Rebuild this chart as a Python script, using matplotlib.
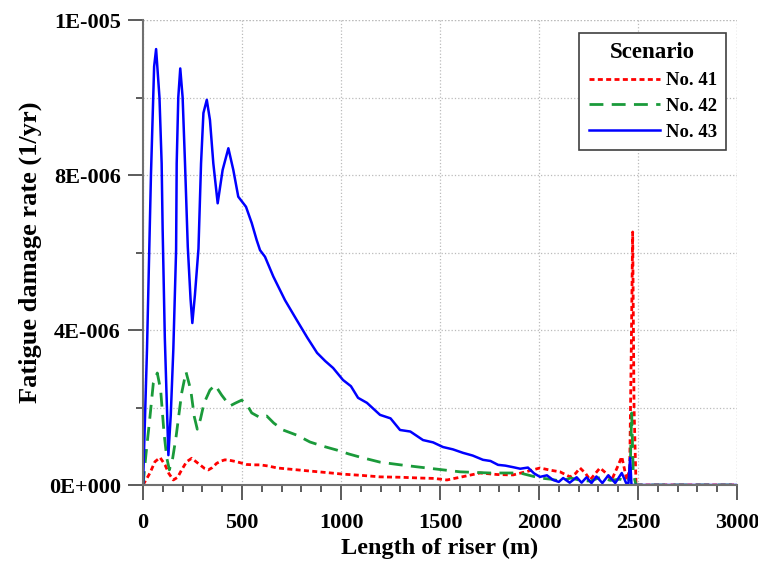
import matplotlib
matplotlib.use('Agg')
import matplotlib.pyplot as plt
from matplotlib.ticker import MultipleLocator, FuncFormatter

# Data (x in m, y in 1/yr)
x41 = [0, 35, 60, 86, 111, 130, 153, 175, 195, 220, 246, 268, 288, 310, 330, 350, 372, 395,
       414, 445, 473, 523, 560, 591, 633, 677, 760, 843, 930, 1010, 1100, 1197, 1300, 1399,
       1470, 1535, 1620, 1702, 1790, 1869, 1940, 2005, 2060, 2106, 2157, 2185, 2207, 2235,
       2258, 2285, 2308, 2340, 2367, 2395, 2418, 2432, 2443, 2458, 2466, 2473, 2480, 2490,
       3000]
y41 = [0, 0.31e-6, 0.6e-6, 0.71e-6, 0.52e-6, 0.3e-6, 0.13e-6, 0.2e-6, 0.39e-6, 0.6e-6,
       0.69e-6, 0.6e-6, 0.52e-6, 0.43e-6, 0.39e-6, 0.45e-6, 0.56e-6, 0.62e-6, 0.65e-6,
       0.63e-6, 0.60e-6, 0.53e-6, 0.52e-6, 0.52e-6, 0.49e-6, 0.44e-6, 0.40e-6, 0.36e-6,
       0.32e-6, 0.28e-6, 0.25e-6, 0.21e-6, 0.20e-6, 0.18e-6, 0.17e-6, 0.13e-6, 0.22e-6,
       0.31e-6, 0.27e-6, 0.26e-6, 0.35e-6, 0.44e-6, 0.38e-6, 0.34e-6, 0.21e-6, 0.3e-6,
       0.44e-6, 0.3e-6, 0.13e-6, 0.3e-6, 0.44e-6, 0.3e-6, 0.13e-6, 0.45e-6, 0.73e-6,
       0.4e-6, 0.13e-6, 0.4e-6, 3.5e-6, 6.53e-6, 2.0e-6, 0, 0]

x42 = [0, 15, 35, 52, 72, 89, 106, 120, 133, 150, 167, 195, 217, 241, 259, 274, 290, 308,
       338, 364, 397, 439, 465, 498, 523, 549, 591, 625, 660, 707, 780, 843, 910, 980, 1040,
       1096, 1197, 1300, 1399, 1500, 1601, 1753, 1904, 2005, 2060, 2110, 2160, 2210, 2260,
       2310, 2360, 2410, 2450, 2460, 2468, 2476, 2490, 3000]
y42 = [0, 0.8e-6, 1.76e-6, 2.63e-6, 2.89e-6, 2.45e-6, 1.34e-6, 0.7e-6, 0.39e-6, 0.7e-6,
       1.25e-6, 2.37e-6, 2.92e-6, 2.45e-6, 1.76e-6, 1.44e-6, 1.7e-6, 2.11e-6, 2.45e-6,
       2.58e-6, 2.32e-6, 2.04e-6, 2.11e-6, 2.19e-6, 2.09e-6, 1.86e-6, 1.74e-6, 1.78e-6,
       1.6e-6, 1.42e-6, 1.28e-6, 1.11e-6, 1.0e-6, 0.90e-6, 0.80e-6, 0.72e-6, 0.59e-6,
       0.52e-6, 0.46e-6, 0.40e-6, 0.34e-6, 0.31e-6, 0.31e-6, 0.18e-6, 0.15e-6, 0.1e-6,
       0.18e-6, 0.12e-6, 0.1e-6, 0.2e-6, 0.12e-6, 0.15e-6, 0.08e-6, 0.3e-6, 1.86e-6, 0.3e-6,
       0, 0]

x43 = [0, 20, 40, 56, 66, 83, 94, 99, 110, 128, 140, 153, 167, 170, 178, 188, 200, 212, 226,
       240, 249, 262, 280, 293, 305, 322, 338, 355, 377, 402, 431, 456, 481, 520, 549, 574,
       591, 616, 658, 717, 776, 830, 879, 920, 960, 1010, 1050, 1086, 1131, 1197, 1250, 1298,
       1350, 1414, 1465, 1515, 1565, 1616, 1665, 1717, 1755, 1793, 1830, 1869, 1905, 1944,
       1975, 2005, 2040, 2071, 2100, 2122, 2155, 2190, 2215, 2240, 2265, 2290, 2320, 2350,
       2385, 2418, 2440, 2452, 2460, 2467, 2480, 3000]
y43 = [0, 3.5e-6, 8.0e-6, 10.8e-6, 11.25e-6, 10.0e-6, 8.3e-6, 6.6e-6, 3.8e-6, 0.77e-6,
       1.8e-6, 3.5e-6, 6.06e-6, 8.3e-6, 10.0e-6, 10.75e-6, 10.0e-6, 8.3e-6, 6.15e-6,
       4.8e-6, 4.18e-6, 4.9e-6, 6.1e-6, 8.3e-6, 9.6e-6, 9.94e-6, 9.42e-6, 8.3e-6, 7.27e-6,
       8.13e-6, 8.69e-6, 8.13e-6, 7.44e-6, 7.18e-6, 6.76e-6, 6.32e-6, 6.06e-6, 5.89e-6,
       5.38e-6, 4.77e-6, 4.26e-6, 3.8e-6, 3.41e-6, 3.2e-6, 3.02e-6, 2.71e-6, 2.55e-6,
       2.25e-6, 2.12e-6, 1.81e-6, 1.72e-6, 1.42e-6, 1.38e-6, 1.16e-6, 1.10e-6, 0.98e-6,
       0.92e-6, 0.83e-6, 0.76e-6, 0.65e-6, 0.62e-6, 0.52e-6, 0.50e-6, 0.46e-6, 0.42e-6,
       0.45e-6, 0.30e-6, 0.21e-6, 0.25e-6, 0.13e-6, 0.08e-6, 0.18e-6, 0.06e-6, 0.2e-6,
       0.06e-6, 0.2e-6, 0.05e-6, 0.22e-6, 0.05e-6, 0.25e-6, 0.05e-6, 0.31e-6, 0.05e-6,
       0.05e-6, 0.7e-6, 0, 0, 0]

series = [
    (x41, y41, 'No. 41', '#ff0000', (0, (1.8, 1.2)), 2.0),
    (x42, y42, 'No. 42', '#1a9a3a', (0, (5, 3)), 2.0),
    (x43, y43, 'No. 43', '#0000ff', '-', 1.8),
]
yTickLabels = [0, 4e-6, 8e-6, 1.2e-5]
yMinorTicks = [2e-6, 6e-6, 1e-5]

plt.rcParams['font.family'] = 'Liberation Serif'
plt.rcParams['font.weight'] = 'bold'

fig = plt.figure(figsize=(7.58, 5.62), dpi=100)
ax = fig.add_axes([0.1887, 0.137, 0.7836, 0.8274])

for xs, ys, label, color, ls, lw in series:
    ax.plot(xs, ys, color=color, linestyle=ls, linewidth=lw, label=label,
            solid_joinstyle='round', dash_joinstyle='round')

ax.set_xlim(0, 3000)
ax.set_ylim(0, 1.2e-5)

def sciLabel(v, pos):
    if v == 0:
        return '0E+000'
    m, e = f'{v:.0E}'.split('E')
    return f'{m}E{int(e):+04d}'

ax.xaxis.set_major_locator(MultipleLocator(500))
ax.xaxis.set_minor_locator(MultipleLocator(100))
ax.set_yticks(yTickLabels)
ax.set_yticks(yMinorTicks, minor=True)
ax.yaxis.set_major_formatter(FuncFormatter(sciLabel))

gridStyle = dict(linestyle=':', color='#bbbbbb', linewidth=0.9)
ax.grid(True, which='major', **gridStyle)
for v in yMinorTicks + [1.2e-5]:
    ax.axhline(v, zorder=0, **gridStyle)
ax.axvline(3000, zorder=0, **gridStyle)

for side in ['top', 'right']:
    ax.spines[side].set_visible(False)
for side in ['left', 'bottom']:
    ax.spines[side].set_color('#707070')
    ax.spines[side].set_linewidth(1.5)

ax.tick_params(which='major', direction='out', length=11, width=1.2, color='#404040',
               labelsize=16)
ax.tick_params(axis='x', which='major', pad=9.5)
ax.tick_params(axis='y', which='major', pad=5)
ax.tick_params(which='minor', direction='out', length=5, width=1.2, color='#404040')
for lbl in ax.get_xticklabels() + ax.get_yticklabels():
    lbl.set_fontweight('bold')

ax.set_xlabel('Length of riser (m)', fontsize=17.5, fontweight='bold', labelpad=3)
ax.set_ylabel('Fatigue damage rate (1/yr)', fontsize=19, fontweight='bold', labelpad=5)

leg = ax.legend(title='Scenario', loc='upper right', bbox_to_anchor=(0.988, 0.98),
                fontsize=13.5, title_fontproperties={'weight': 'bold', 'size': 16.5},
                handlelength=3.8, handletextpad=0.3, fancybox=False, framealpha=1,
                edgecolor='#404040', borderpad=0.5, labelspacing=0.46,
                borderaxespad=0.2)
leg.get_frame().set_linewidth(1.2)
for t in leg.get_texts():
    t.set_fontweight('bold')

fig.savefig('out.png', dpi=100)
